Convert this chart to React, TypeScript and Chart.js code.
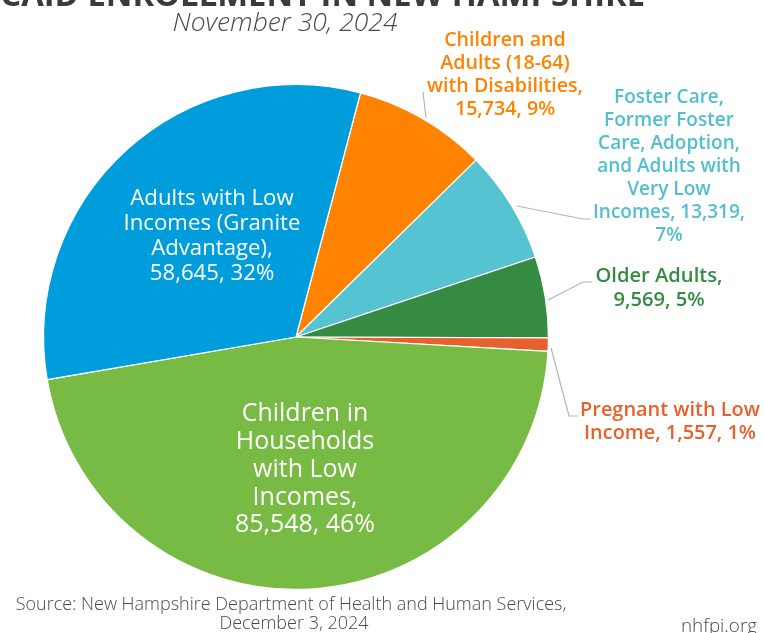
import React, { useEffect, useRef } from "react";
import { Chart, registerables } from "chart.js";

Chart.register(...registerables);

const categories = [
  "Children and Adults (18-64) with Disabilities",
  "Foster Care, Former Foster Care, Adoption, and Adults with Very Low Incomes",
  "Older Adults",
  "Pregnant with Low Income",
  "Children in Households with Low Incomes",
  "Adults with Low Incomes (Granite Advantage)",
];
const enrollment = [15734, 13319, 9569, 1557, 85548, 58645];
const percents = ["9%", "7%", "5%", "1%", "46%", "32%"];
const sliceColors = ["#FF8300", "#56C3D3", "#358B42", "#E7612F", "#78BB44", "#009DDC"];
const labelColors = ["#FF8200", "#52BED0", "#358B42", "#E8602C", "#FFFFFF", "#FFFFFF"];

const titleText = "MEDICAID ENROLLMENT IN NEW HAMPSHIRE";
const subtitleText = "November 30, 2024";
const sourceLines = ["Source: New Hampshire Department of Health and Human Services,", "December 3, 2024"];
const siteText = "nhfpi.org";

const fmt = (v: number) => v.toLocaleString("en-US");

const labelLines: string[][] = [
  ["Children and", "Adults (18-64)", "with Disabilities,", `${fmt(enrollment[0])}, ${percents[0]}`],
  ["Foster Care,", "Former Foster", "Care, Adoption,", "and Adults with", "Very Low", `Incomes, ${fmt(enrollment[1])},`, percents[1]],
  ["Older Adults,", `${fmt(enrollment[2])}, ${percents[2]}`],
  ["Pregnant with Low", `Income, ${fmt(enrollment[3])}, ${percents[3]}`],
  ["Children in", "Households", "with Low", "Incomes,", `${fmt(enrollment[4])}, ${percents[4]}`],
  ["Adults with Low", "Incomes (Granite", "Advantage),", `${fmt(enrollment[5])}, ${percents[5]}`],
];

const labelLayout = [
  { x: 505, y: 40, lh: 23, w: 156, weight: 600 },
  { x: 669, y: 98, lh: 23, w: 152, weight: 600 },
  { x: 659, y: 276, lh: 24, w: 127, weight: 600 },
  { x: 670, y: 410, lh: 23, w: 180, weight: 600 },
  { x: 305, y: 414, lh: 27.8, w: 140, weight: 500 },
  { x: 212, y: 199, lh: 25, w: 177, weight: 500 },
];

const leaders: { i: number; pts: number[][] }[] = [
  { i: 0, pts: [[426, 118], [423, 92]] },
  { i: 1, pts: [[517, 206], [583, 219], [591, 219]] },
  { i: 2, pts: [[548, 300], [583, 282], [592, 282]] },
  { i: 3, pts: [[551, 348], [569, 416], [578, 416]] },
];

const FAMILY = "'Open Sans', 'Noto Sans', sans-serif";

function fitSize(ctx: CanvasRenderingContext2D, lines: string[], target: number, weight: number, style = "normal") {
  ctx.font = `${style} ${weight} 100px ${FAMILY}`;
  let m = 0;
  for (const l of lines) m = Math.max(m, ctx.measureText(l).width);
  return (100 * target) / m;
}

const textPlugin = {
  id: "textPlugin",
  afterDraw(chart: any) {
    const ctx: CanvasRenderingContext2D = chart.ctx;
    ctx.save();
    ctx.textBaseline = "middle";

    ctx.strokeStyle = "#B5B5B5";
    ctx.lineWidth = 1.2;
    for (const ld of leaders) {
      ctx.beginPath();
      ld.pts.forEach((p, k) => (k ? ctx.lineTo(p[0], p[1]) : ctx.moveTo(p[0], p[1])));
      ctx.stroke();
    }

    ctx.textAlign = "center";
    labelLines.forEach((lines, i) => {
      const L = labelLayout[i];
      const size = fitSize(ctx, lines, L.w, L.weight);
      ctx.font = `normal ${L.weight} ${size}px ${FAMILY}`;
      ctx.fillStyle = labelColors[i];
      lines.forEach((t, k) => ctx.fillText(t, L.x, L.y + k * L.lh));
    });

    // title (clipped at top)
    ctx.fillStyle = "#3A3A3A";
    const visible = titleText.slice(titleText.indexOf("CAID"));
    const tsize = fitSize(ctx, [visible], 645, 700);
    ctx.font = `normal 700 ${tsize}px ${FAMILY}`;
    ctx.textAlign = "right";
    ctx.textBaseline = "alphabetic";
    ctx.fillText(titleText, 645, 6);

    // subtitle
    ctx.textBaseline = "middle";
    ctx.textAlign = "center";
    ctx.fillStyle = "#4A4A4A";
    const ssize = fitSize(ctx, [subtitleText], 225, 300, "italic");
    ctx.font = `italic 300 ${ssize}px ${FAMILY}`;
    ctx.fillText(subtitleText, 285, 23);

    // source
    ctx.fillStyle = "#4A4A4A";
    const srcSize = fitSize(ctx, [sourceLines[0]], 551, 300);
    ctx.font = `normal 300 ${srcSize}px ${FAMILY}`;
    ctx.fillText(sourceLines[0], 291, 605);
    ctx.fillText(sourceLines[1], 294, 624);

    const siteSize = fitSize(ctx, [siteText], 76, 300);
    ctx.font = `normal 300 ${siteSize}px ${FAMILY}`;
    ctx.fillText(siteText, 719, 627);

    ctx.restore();
  },
};

export default function App() {
  const ref = useRef<HTMLCanvasElement | null>(null);
  useEffect(() => {
    if (!ref.current) return;
    const chart = new Chart(ref.current, {
      type: "pie",
      data: {
        labels: categories,
        datasets: [
          {
            data: enrollment,
            backgroundColor: sliceColors,
            borderColor: "#FFFFFF",
            borderWidth: 1.2,
          },
        ],
      },
      options: {
        responsive: false,
        animation: false,
        rotation: 14.8,
        layout: { padding: { left: 43, right: 215, top: 84, bottom: 43 } },
        plugins: {
          legend: { display: false },
          tooltip: { enabled: false },
          title: { display: false },
        },
      },
      plugins: [textPlugin],
    });
    return () => chart.destroy();
  }, []);
  return (
    <div style={{ position: "fixed", left: 0, top: 0, width: 764, height: 633, background: "#fff" }}>
      <canvas ref={ref} width={764} height={633} style={{ width: 764, height: 633 }} />
    </div>
  );
}
